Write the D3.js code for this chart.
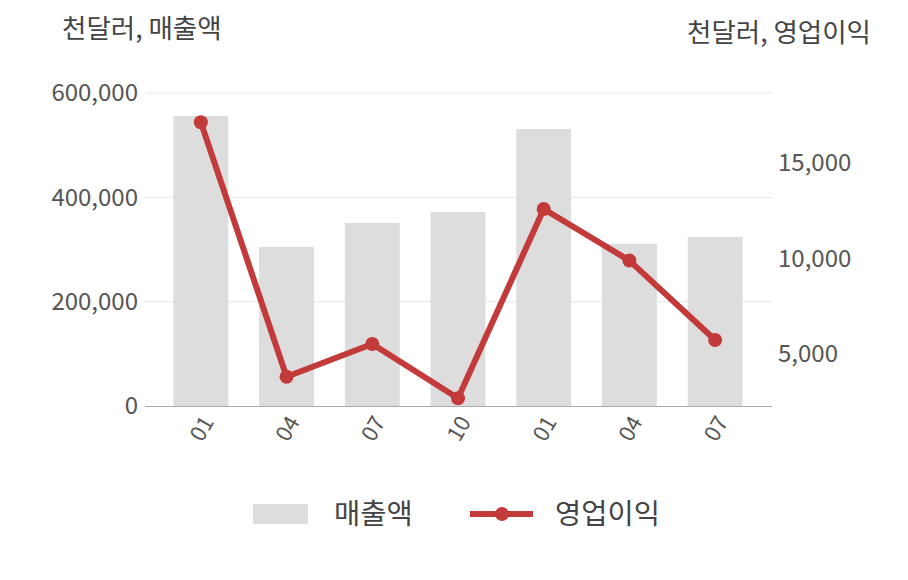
<!DOCTYPE html>
<html>
<head>
<meta charset="utf-8">
<script src="https://cdn.jsdelivr.net/npm/d3@7"></script>
<style>
  body { margin: 0; background: #fff; }
  svg text { font-family: "Noto Sans CJK KR", "Noto Sans", sans-serif; fill: #444; }
</style>
</head>
<body>
<div id="chart"></div>
<script>
// data
const periods = ["01", "04", "07", "10", "01", "04", "07"];
const sales = [556000, 305000, 351000, 372000, 531000, 311000, 324000];       // 매출액 (천달러)
const opProfit = [17130, 3810, 5520, 2680, 12590, 9890, 5730];                // 영업이익 (천달러)
const leftTicks = [0, 200000, 400000, 600000];
const rightTicks = [5000, 10000, 15000];

const W = 908, H = 580;
const red = "#c23a3a";

const svg = d3.select("#chart").append("svg")
    .attr("width", W)
    .attr("height", H);

// Scales
const x = d3.scaleBand()
    .domain(d3.range(periods.length))
    .range([158, 758])
    .paddingInner(0.36)
    .paddingOuter(0.18);

const yL = d3.scaleLinear()
    .domain([0, 600000])
    .range([406, 93]);

const yR = d3.scaleLinear()
    .domain([2277, 18665])
    .range([406, 93]);

// Gridlines
svg.append("g")
    .selectAll("line")
    .data(leftTicks.slice(1))
    .enter().append("line")
    .attr("x1", 145).attr("x2", 772)
    .attr("y1", d => yL(d)).attr("y2", d => yL(d))
    .attr("stroke", "#e6e6e6")
    .attr("stroke-width", 1);

// Bars
svg.append("g")
    .selectAll("rect")
    .data(sales)
    .enter().append("rect")
    .attr("x", (d, i) => x(i))
    .attr("y", d => yL(d))
    .attr("width", x.bandwidth())
    .attr("height", d => yL(0) - yL(d))
    .attr("fill", "#dddddd");

// Baseline
svg.append("line")
    .attr("x1", 145).attr("x2", 772)
    .attr("y1", yL(0) + 0.5).attr("y2", yL(0) + 0.5)
    .attr("stroke", "#aaaaaa")
    .attr("stroke-width", 1);

// Left axis
const leftAxis = svg.append("g")
    .attr("transform", "translate(138,0)")
    .call(d3.axisLeft(yL).tickValues(leftTicks).tickFormat(d3.format(",")).tickSize(0).tickPadding(0));
leftAxis.select(".domain").remove();
leftAxis.selectAll("text")
    .style("font-size", "24px")
    .style("fill", "#555");

// Right axis
const rightAxis = svg.append("g")
    .attr("transform", "translate(778,0)")
    .call(d3.axisRight(yR).tickValues(rightTicks).tickFormat(d3.format(",")).tickSize(0).tickPadding(0));
rightAxis.select(".domain").remove();
rightAxis.selectAll("text")
    .style("font-size", "24px")
    .style("fill", "#555");

// X labels (rotated)
svg.append("g")
    .selectAll("text")
    .data(periods)
    .enter().append("text")
    .attr("transform", (d, i) => `translate(${x(i) + x.bandwidth() / 2 + 7},${418}) rotate(-60)`)
    .attr("text-anchor", "end")
    .attr("dy", "0.35em")
    .style("font-size", "22px")
    .style("fill", "#555")
    .text(d => d);

// Line
const line = d3.line()
    .x((d, i) => x(i) + x.bandwidth() / 2)
    .y(d => yR(d));

svg.append("path")
    .datum(opProfit)
    .attr("d", line)
    .attr("fill", "none")
    .attr("stroke", red)
    .attr("stroke-width", 6)
    .attr("stroke-linejoin", "round");

svg.append("g")
    .selectAll("circle")
    .data(opProfit)
    .enter().append("circle")
    .attr("cx", (d, i) => x(i) + x.bandwidth() / 2)
    .attr("cy", d => yR(d))
    .attr("r", 7)
    .attr("fill", red);

// Axis titles
svg.append("text")
    .attr("x", 62).attr("y", 38)
    .style("font-size", "26.5px")
    .text("천달러, 매출액");

svg.append("text")
    .attr("x", 871).attr("y", 42)
    .attr("text-anchor", "end")
    .style("font-size", "26.5px")
    .text("천달러, 영업이익");

// Legend
const legend = svg.append("g");
legend.append("rect")
    .attr("x", 253).attr("y", 504)
    .attr("width", 55).attr("height", 20)
    .attr("fill", "#dddddd");
legend.append("text")
    .attr("x", 334).attr("y", 514)
    .attr("dy", "0.35em")
    .style("font-size", "28.5px")
    .text("매출액");
legend.append("line")
    .attr("x1", 470).attr("x2", 533)
    .attr("y1", 514).attr("y2", 514)
    .attr("stroke", red)
    .attr("stroke-width", 6);
legend.append("circle")
    .attr("cx", 502).attr("cy", 514)
    .attr("r", 7)
    .attr("fill", red);
legend.append("text")
    .attr("x", 555).attr("y", 514)
    .attr("dy", "0.35em")
    .style("font-size", "28.5px")
    .text("영업이익");
</script>
</body>
</html>
